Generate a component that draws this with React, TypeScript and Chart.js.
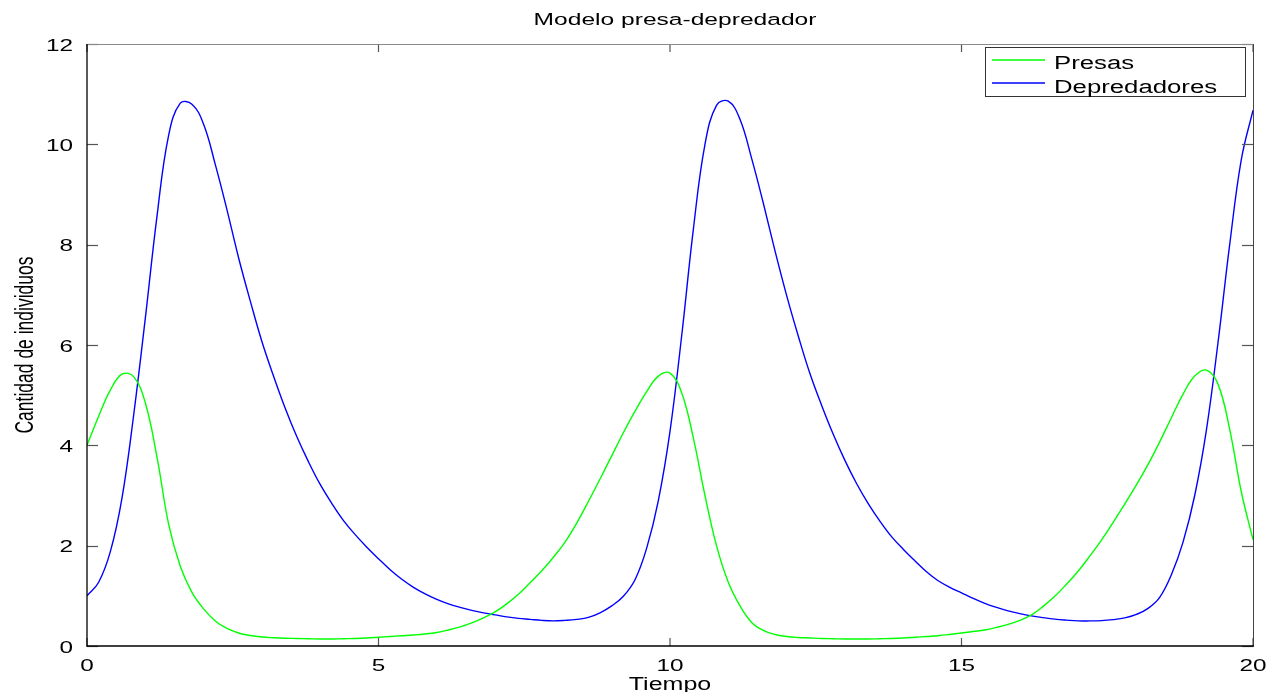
import React, { useEffect, useRef } from 'react';
import { Chart, registerables } from 'chart.js';

Chart.register(...registerables);

const titulo = 'Modelo presa-depredador';
const etiquetaX = 'Tiempo';
const etiquetaY = 'Cantidad de individuos';
const nombresSeries = ['Presas', 'Depredadores'];
const coloresSeries = ['#00ff00', '#0000ff'];

const ticksX = [0, 5, 10, 15, 20];
const ticksY = [0, 2, 4, 6, 8, 10, 12];

const tiempo = [
  0, 0.2, 0.4, 0.6, 0.8, 1, 1.2, 1.4, 1.6, 1.8,
  2, 2.2, 2.4, 2.6, 2.8, 3, 3.2, 3.4, 3.6, 3.8,
  4, 4.2, 4.4, 4.6, 4.8, 5, 5.2, 5.4, 5.6, 5.8,
  6, 6.2, 6.4, 6.6, 6.8, 7, 7.2, 7.4, 7.6, 7.8,
  8, 8.2, 8.4, 8.6, 8.8, 9, 9.2, 9.4, 9.6, 9.8,
  10, 10.2, 10.4, 10.6, 10.8, 11, 11.2, 11.4, 11.6, 11.8,
  12, 12.2, 12.4, 12.6, 12.8, 13, 13.2, 13.4, 13.6, 13.8,
  14, 14.2, 14.4, 14.6, 14.8, 15, 15.2, 15.4, 15.6, 15.8,
  16, 16.2, 16.4, 16.6, 16.8, 17, 17.2, 17.4, 17.6, 17.8,
  18, 18.2, 18.4, 18.6, 18.8, 19, 19.2, 19.4, 19.6, 19.8,
  20,
];

const presas = [
  4.0, 4.58, 5.1, 5.42, 5.37, 4.85, 3.77, 2.43, 1.59, 1.07,
  0.74, 0.5, 0.35, 0.26, 0.21, 0.18, 0.165, 0.155, 0.15, 0.145,
  0.14, 0.14, 0.145, 0.15, 0.16, 0.175, 0.19, 0.205, 0.22, 0.24,
  0.27, 0.32, 0.38, 0.46, 0.56, 0.68, 0.84, 1.03, 1.26, 1.5,
  1.77, 2.07, 2.45, 2.88, 3.33, 3.79, 4.25, 4.68, 5.07, 5.38,
  5.44, 5.05, 4.15, 3.0, 1.99, 1.27, 0.8, 0.47, 0.31, 0.23,
  0.19, 0.17, 0.16, 0.15, 0.145, 0.14, 0.14, 0.14, 0.145, 0.15,
  0.16, 0.175, 0.19, 0.205, 0.23, 0.26, 0.29, 0.32, 0.37, 0.43,
  0.51, 0.62, 0.79, 0.99, 1.23, 1.49, 1.79, 2.11, 2.46, 2.83,
  3.21, 3.62, 4.07, 4.55, 5.02, 5.38, 5.5, 5.22, 4.32, 3.07,
  2.12,
];

const depredadores = [
  1.0, 1.27, 1.88, 2.95, 4.6, 6.53, 8.56, 10.18, 10.82, 10.8,
  10.4, 9.6, 8.7, 7.74, 6.88, 6.07, 5.38, 4.74, 4.17, 3.67,
  3.22, 2.84, 2.5, 2.22, 1.97, 1.74, 1.52, 1.33, 1.17, 1.04,
  0.93, 0.84, 0.77, 0.71, 0.66, 0.62, 0.58, 0.55, 0.53, 0.51,
  0.5, 0.51, 0.53, 0.57, 0.66, 0.8, 0.99, 1.32, 1.95, 2.9,
  4.28, 6.18, 8.3, 10.0, 10.78, 10.86, 10.5, 9.72, 8.83, 7.88,
  6.99, 6.18, 5.43, 4.8, 4.22, 3.7, 3.24, 2.84, 2.49, 2.18,
  1.93, 1.7, 1.48, 1.3, 1.17, 1.06, 0.95, 0.85, 0.77, 0.7,
  0.645, 0.6, 0.565, 0.535, 0.515, 0.5, 0.5, 0.505, 0.525, 0.56,
  0.63, 0.75, 0.97, 1.42, 2.07, 3.0, 4.3, 6.05, 8.0, 9.7,
  10.68,
];

const FAMILIA = '"Liberation Sans", Arial, Helvetica, sans-serif';
const ESTIRAMIENTO = 1.43;

function textoEstirado(
  ctx: CanvasRenderingContext2D,
  texto: string,
  x: number,
  y: number,
  size: number,
  align: CanvasTextAlign,
  baseline: CanvasTextBaseline
) {
  ctx.save();
  ctx.translate(x, y);
  ctx.scale(ESTIRAMIENTO, 1);
  ctx.font = `${size}px ${FAMILIA}`;
  ctx.textAlign = align;
  ctx.textBaseline = baseline;
  ctx.fillStyle = '#000';
  ctx.fillText(texto, 0, 0);
  ctx.restore();
}

function linea(ctx: CanvasRenderingContext2D, x1: number, y1: number, x2: number, y2: number) {
  ctx.beginPath();
  ctx.moveTo(x1, y1);
  ctx.lineTo(x2, y2);
  ctx.stroke();
}

const decoracion = {
  id: 'decoracionOctave',
  afterDraw(chart: any) {
    const ctx: CanvasRenderingContext2D = chart.ctx;
    const a = chart.chartArea;
    const sx = chart.scales.x;
    const sy = chart.scales.y;
    ctx.save();

    // ticks
    ctx.strokeStyle = '#555';
    ctx.lineWidth = 1.2;
    ticksX.forEach((v) => {
      const px = sx.getPixelForValue(v);
      linea(ctx, px, a.bottom, px, a.bottom - 8);
      linea(ctx, px, a.top, px, a.top + 8);
    });
    ticksY.forEach((v) => {
      const py = Math.round(sy.getPixelForValue(v)) + 0.5;
      linea(ctx, a.left, py, a.left + 11, py);
      linea(ctx, a.right, py, a.right - 11, py);
    });

    // frame
    ctx.lineWidth = 1;
    ctx.strokeStyle = '#8a8a8a';
    linea(ctx, a.left, a.top + 0.5, a.right, a.top + 0.5);
    ctx.strokeStyle = '#444';
    linea(ctx, a.right + 0.5, a.top, a.right + 0.5, a.bottom);
    ctx.strokeStyle = '#000';
    ctx.lineWidth = 1.3;
    linea(ctx, a.left, a.top, a.left, a.bottom + 0.5);
    linea(ctx, a.left - 0.5, a.bottom, a.right + 1, a.bottom);

    // tick labels
    ticksX.forEach((v) => {
      textoEstirado(ctx, String(v), sx.getPixelForValue(v), 666, 17, 'center', 'middle');
    });
    ticksY.forEach((v) => {
      textoEstirado(ctx, String(v), 73, sy.getPixelForValue(v) + 2, 17, 'right', 'middle');
    });

    // title and axis titles
    textoEstirado(ctx, titulo, (a.left + a.right) / 2 + 5, 25, 17.2, 'center', 'alphabetic');
    textoEstirado(ctx, etiquetaX, (a.left + a.right) / 2, 690, 17.5, 'center', 'alphabetic');
    ctx.save();
    ctx.translate(33, (a.top + a.bottom) / 2);
    ctx.scale(ESTIRAMIENTO, 1);
    ctx.rotate(-Math.PI / 2);
    ctx.font = `17.5px ${FAMILIA}`;
    ctx.textAlign = 'center';
    ctx.textBaseline = 'alphabetic';
    ctx.fillStyle = '#000';
    ctx.fillText(etiquetaY, 0, 0);
    ctx.restore();

    // legend
    const lx = 985;
    const ly = 47;
    const lw = 260;
    const lh = 49;
    ctx.fillStyle = '#fff';
    ctx.fillRect(lx, ly, lw, lh);
    ctx.strokeStyle = '#333';
    ctx.lineWidth = 1;
    ctx.strokeRect(lx + 0.5, ly + 0.5, lw, lh);
    nombresSeries.forEach((nombre, i) => {
      const yy = 60 + i * 23;
      ctx.strokeStyle = coloresSeries[i];
      ctx.lineWidth = 1.5;
      linea(ctx, 992, yy, 1045, yy);
      textoEstirado(ctx, nombre, 1054, 68.5 + i * 24.5, 18, 'left', 'alphabetic');
    });

    ctx.restore();
  },
};

export default function App() {
  const ref = useRef<HTMLCanvasElement | null>(null);

  useEffect(() => {
    if (!ref.current) return;
    const series = [presas, depredadores];
    const chart = new Chart(ref.current, {
      type: 'line',
      data: {
        datasets: nombresSeries.map((nombre, i) => ({
          label: nombre,
          data: tiempo.map((t, k) => ({ x: t, y: series[i][k] })),
          borderColor: coloresSeries[i],
          backgroundColor: coloresSeries[i],
          borderWidth: 1.4,
          pointRadius: 0,
          pointHoverRadius: 0,
          fill: false,
          tension: 0.4,
        })),
      },
      options: {
        responsive: false,
        animation: false,
        devicePixelRatio: 1,
        layout: { padding: { left: 87, right: 21, top: 44, bottom: 46 } },
        plugins: {
          legend: { display: false },
          title: { display: false },
          tooltip: { enabled: false },
        },
        scales: {
          x: {
            type: 'linear',
            display: false,
            min: 0,
            max: 20,
            ticks: { stepSize: 5 },
          },
          y: {
            type: 'linear',
            display: false,
            min: 0,
            max: 12,
            ticks: { stepSize: 2 },
          },
        },
      },
      plugins: [decoracion],
    });
    return () => chart.destroy();
  }, []);

  return (
    <div style={{ position: 'fixed', left: 0, top: 0, width: 1274, height: 692, background: '#fff' }}>
      <canvas ref={ref} width={1274} height={692} style={{ display: 'block' }} />
    </div>
  );
}
